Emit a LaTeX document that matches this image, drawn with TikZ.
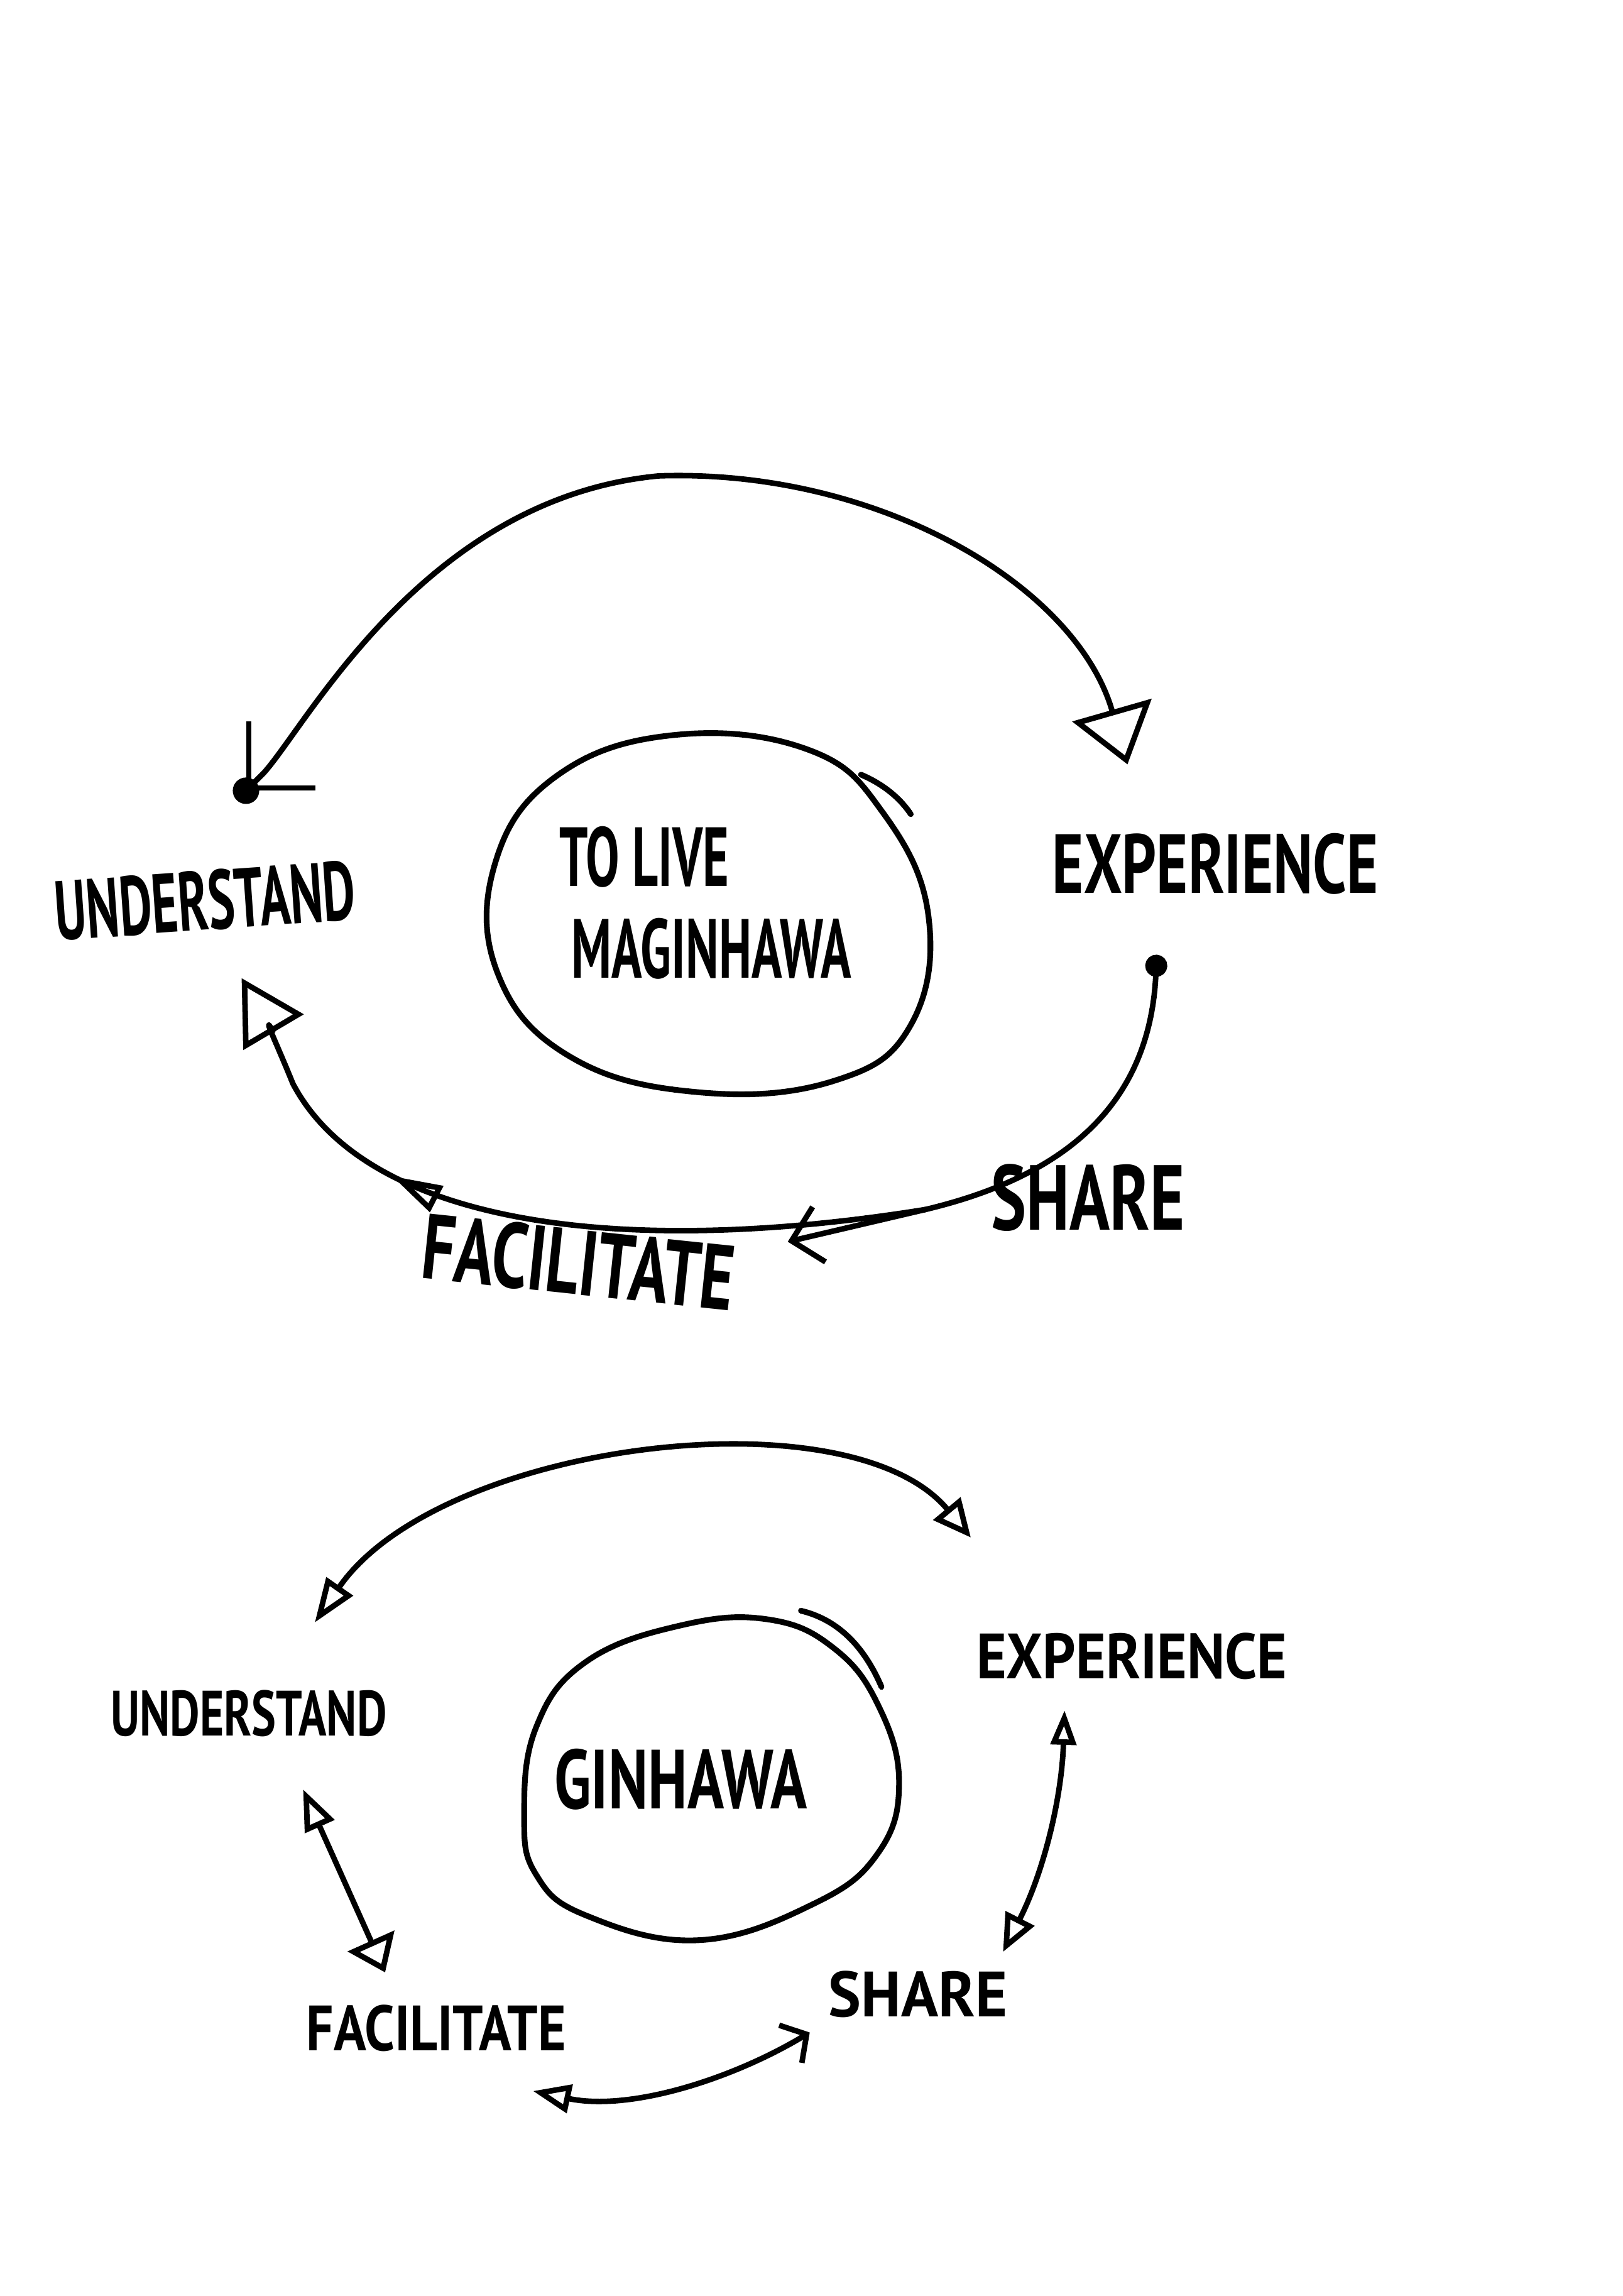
\documentclass[tikz,border=0pt]{standalone}
\usepackage{fontspec}
\newfontfamily\handfont[FakeStretch=0.6]{PT Sans}
\usetikzlibrary{arrows.meta,decorations.markings}

\begin{document}
\begin{tikzpicture}[x=0.02331cm, y=-0.02331cm, line cap=round, line join=round,
        bigword/.style={font = {\handfont\bfseries\fontsize{38}{40}\selectfont}, black, inner sep=0pt},
        smallword/.style={font = {\handfont\bfseries\fontsize{29}{31}\selectfont}, black, inner sep=0pt},
        pen/.style={line width=2.5pt, black},
        ring/.style={line width=2.6pt, black}]
        \useasboundingbox (0,0) rectangle (1108,1568);

        \draw[ring] plot[smooth cycle, tension=0.7] coordinates {(460,502) (552,512) (603,555) (634,625) (622,700) (570,738) (478,746) (390,722) (340,665) (338,590) (380,530)};
        \draw[ring] (588,529) .. controls (602,535) and (614,544) .. (622,556);
        \node[bigword] (tolive) at (440,585) {TO LIVE};
        \node[bigword] (maginhawa) at (486,648) {MAGINHAWA};

        \node[bigword, rotate=4] (understand) at (140,615) {UNDERSTAND};
        \node[bigword, xscale=1.2] (experience) at (830,590) {EXPERIENCE};
        \node[bigword, scale=1.1, xscale=1.2] (share) at (743,818) {SHARE};
        \node[bigword, rotate=-6, scale=1.1, xscale=1.17] (facilitate) at (395,862) {FACILITATE};

        \coordinate (u-in) at (168,540);
        \coordinate (e-in) at (770,522);
        \coordinate (e-out) at (790,652);
        \coordinate (s-mid) at (632,826);
        \coordinate (f-in) at (538,848);
        \coordinate (u-back) at (165,668);

        \draw[pen, {Straight Barb[length=0.75cm, width=1.5cm]}-{Triangle[open, length=0.9cm, width=1.3cm]}]
            (u-in) -- (180,528) .. controls (210,495) and (290,340) .. (450,325) .. controls (600,320) and (735,400) .. (e-in);
        \fill (u-in) circle (6pt);
        \draw[pen, {Circle[length=10pt]}-{Straight Barb[length=0.45cm, width=0.9cm]}]
            (e-out) .. controls (785,760) and (720,805) .. (s-mid) -- (f-in);
        \draw[pen, -{Triangle[open, length=1cm, width=1.1cm]}, postaction={decorate},
            decoration={markings, mark=at position 0.68 with {\arrow{Triangle[open, length=0.8cm, width=0.45cm]}}}]
            (s-mid) .. controls (420,860) and (250,835) .. (200,740) .. controls (190,715) and (178,690) .. (u-back);

        \draw[ring] plot[smooth cycle, tension=0.7] coordinates {(525,1106) (570,1126) (600,1165) (614,1217) (600,1265) (556,1300) (477,1325) (400,1308) (366,1280) (358,1240) (366,1180) (400,1135) (465,1110)};
        \draw[ring] (547,1100) .. controls (572,1106) and (590,1124) .. (602,1152);
        \node[bigword, xscale=1.2] (ginhawa) at (465,1215) {GINHAWA};

        \node[smallword, xscale=1.2] (understand2) at (170,1170) {UNDERSTAND};
        \node[smallword, xscale=1.5] (experience2) at (773,1131) {EXPERIENCE};
        \node[smallword, xscale=1.6] (share2) at (627,1362) {SHARE};
        \node[smallword, xscale=1.4] (facilitate2) at (298,1385) {FACILITATE};

        \coordinate (u2-top) at (215,1108);
        \coordinate (e2-top) at (663,1050);
        \coordinate (u2-low) at (207,1222);
        \coordinate (f2-top) at (263,1347);
        \coordinate (e2-low) at (727,1168);
        \coordinate (s2-top) at (685,1333);
        \coordinate (f2-low) at (364,1428);
        \coordinate (s2-low) at (553,1388);

        \draw[pen, {Triangle[open, length=0.7cm, width=0.5cm]}-{Triangle[open, length=0.6cm, width=0.55cm]}]
            (u2-top) .. controls (300,985) and (580,950) .. (e2-top);
        \draw[pen, {Triangle[open, length=0.65cm, width=0.5cm]}-{Triangle[open, length=0.55cm, width=0.8cm]}]
            (u2-low) -- (f2-top);
        \draw[pen, {Triangle[open, length=0.55cm, width=0.4cm]}-{Triangle[open, length=0.6cm, width=0.5cm]}]
            (e2-low) .. controls (725,1230) and (712,1280) .. (s2-top);
        \draw[pen, {Triangle[open, length=0.6cm, width=0.45cm]}-{Straight Barb[length=0.3cm, width=0.7cm]}]
            (f2-low) .. controls (430,1442) and (500,1420) .. (s2-low);
    \end{tikzpicture}
\end{document}
